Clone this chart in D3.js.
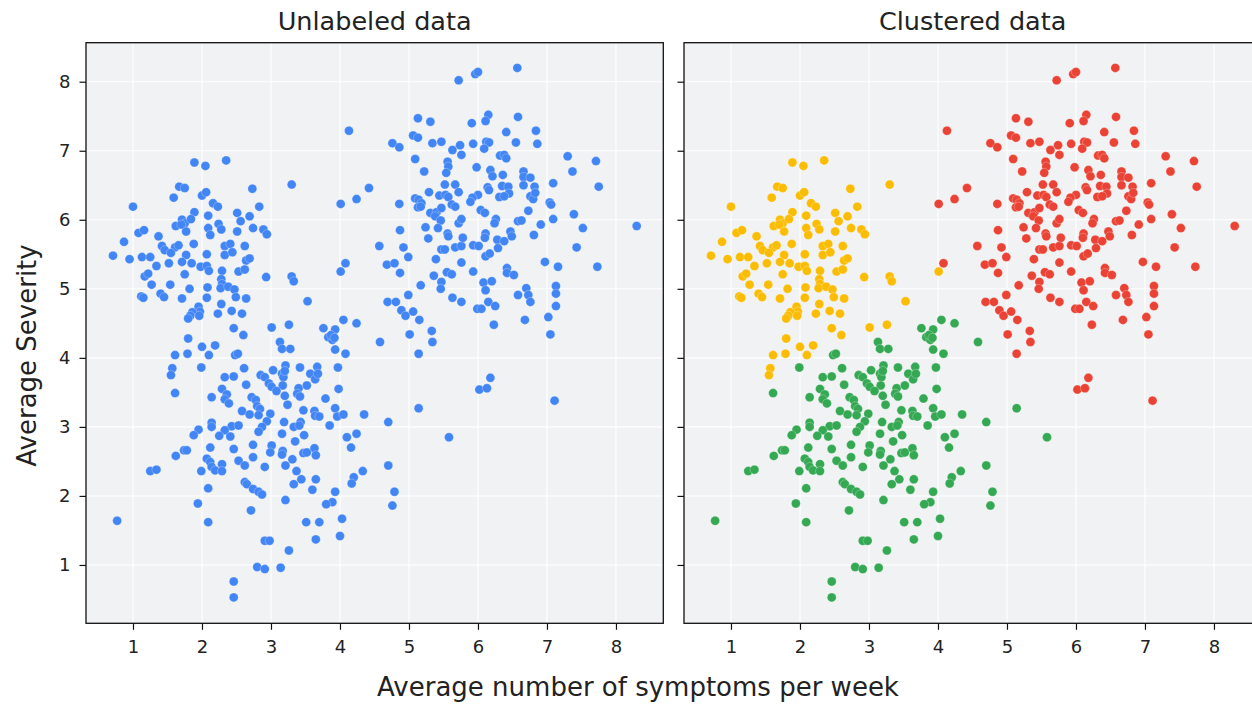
<!DOCTYPE html>
<html><head><meta charset="utf-8">
<script src="https://cdn.jsdelivr.net/npm/d3@7"></script>
<style>html,body{margin:0;padding:0;background:#fff;overflow:hidden}</style>
</head><body><svg id="c" width="1252" height="705"></svg>
<script>
const panelTitles = ["Unlabeled data", "Clustered data"];
const xLabel = "Average number of symptoms per week";
const yLabel = "Average Severity";
const xTicks = [1, 2, 3, 4, 5, 6, 7, 8];
const yTicks = [1, 2, 3, 4, 5, 6, 7, 8];
const unlabeledColor = "#4285F4";
const clusterColors = ["#FBBC04", "#34A853", "#EA4335"];

const clusterYellow = [
[1.89,6.83],[2.05,6.78],[2.35,6.86],[2.73,6.45],[1.67,6.48],[1.75,6.46],[1.59,6.32],[2.00,6.35],[2.06,6.40],[1.00,6.19],
[2.16,6.24],[2.23,6.19],[2.83,6.19],[1.89,6.11],[2.09,6.06],[2.51,6.10],[2.69,6.05],[1.71,6.00],[1.75,5.95],[1.84,6.01],
[1.62,5.91],[1.70,5.93],[2.56,5.98],[2.24,5.94],[2.28,5.86],[2.09,5.88],[2.12,5.78],[2.74,5.88],[2.51,5.83],[2.89,5.86],
[2.94,5.79],[1.08,5.81],[1.16,5.85],[1.37,5.76],[1.77,5.83],[0.87,5.68],
[1.42,5.62],[1.61,5.60],[1.66,5.63],[1.88,5.65],[2.33,5.62],[2.41,5.65],[2.62,5.62],[0.71,5.48],[0.95,5.43],[1.13,5.46],
[1.25,5.46],[1.46,5.56],[1.55,5.52],[1.77,5.49],[2.07,5.50],[2.33,5.49],[2.44,5.53],[2.64,5.41],[2.69,5.44],[1.34,5.33],
[1.52,5.37],[1.71,5.39],[1.85,5.37],[1.98,5.32],[2.07,5.33],[2.10,5.26],[2.29,5.26],[2.53,5.25],[2.62,5.28],[1.17,5.18],
[1.22,5.22],[1.75,5.21],[2.93,5.17],[2.28,5.14],[2.29,5.07],[1.27,5.06],[1.54,5.06],[1.82,5.00],[2.08,5.02],[2.27,5.01],
[2.38,5.03],[2.47,4.99],[1.12,4.89],[1.15,4.87],[1.40,4.93],[1.45,4.88],[1.71,4.86],[2.07,4.87],[2.49,4.88],[2.64,4.86],
[2.28,4.78],[1.95,4.74],[1.97,4.67],[1.86,4.66],[1.83,4.61],[1.80,4.57],[1.96,4.61],[2.23,4.64],[2.43,4.68],[2.58,4.64],
[2.46,4.43],[2.60,4.33],[3.01,4.44],[1.80,4.28],[2.00,4.16],[2.19,4.18],[1.79,4.06],[2.10,4.04],[1.61,4.04],[1.57,3.85],
[1.55,3.75],[3.26,4.48],[3.30,5.18],[3.33,5.11],[3.53,4.82],[4.01,5.25],[3.30,6.51]
];

const clusterGreen = [
[2.48,4.04],[2.52,4.06],[1.99,3.86],[2.61,3.85],[2.33,3.72],[2.46,3.73],[2.64,3.61],[2.85,3.75],[2.91,3.72],[2.97,3.63],
[3.01,3.58],[1.61,3.49],[2.14,3.43],[2.29,3.55],[2.36,3.47],[2.33,3.40],[2.39,3.34],[2.72,3.43],[2.78,3.39],[2.80,3.30],
[2.84,3.26],[2.58,3.23],[2.69,3.18],[2.82,3.17],[2.99,3.19],[2.94,3.08],[2.87,3.00],[2.82,2.93],[2.14,3.06],[2.14,3.00],
[1.95,2.96],[1.88,2.88],[2.43,3.01],[2.53,3.02],[2.33,2.95],[2.25,2.87],[2.41,2.86],
[2.46,2.68],[2.74,2.74],[3.01,2.73],[2.99,2.63],[1.74,2.66],[1.78,2.66],[1.62,2.58],[2.12,2.70],[2.07,2.54],[2.12,2.49],
[2.14,2.42],[2.19,2.37],[2.29,2.46],[2.29,2.36],[1.99,2.36],[2.53,2.51],[2.62,2.44],[2.74,2.56],[2.91,2.42],[1.25,2.36],
[1.34,2.38],[2.62,2.20],[2.65,2.17],[2.74,2.10],[2.82,2.06],[2.87,2.02],[2.09,2.11],[1.94,1.89],[2.71,1.79],[0.77,1.64],
[2.09,1.62],[2.91,1.35],[2.98,1.35],[2.80,0.97],[2.91,0.94],[2.46,0.76],[2.46,0.53],
[3.35,2.79],[3.17,2.65],[3.16,2.60],[3.47,2.62],[3.52,2.63],[3.63,2.69],[3.65,2.59],[3.31,2.53],[3.21,2.44],[3.37,2.36],
[3.44,2.24],[3.33,2.17],[3.65,2.24],[3.60,2.09],[3.21,1.94],[4.16,2.70],[4.33,2.36],[4.20,2.27],[4.17,2.18],[3.93,2.06],
[3.89,1.91],[3.80,1.88],[4.70,2.44],[4.79,2.06],[4.76,1.86],[3.51,1.62],[3.70,1.62],[4.03,1.67],[3.65,1.37],[4.00,1.42],
[3.26,1.21],[3.14,0.96],[5.58,2.85],
[4.05,4.55],[4.24,4.50],[3.76,4.43],[3.93,4.41],[3.83,4.30],[3.89,4.26],[3.87,4.33],[3.92,4.29],[3.93,4.12],[4.08,4.06],
[4.58,4.23],[3.13,4.23],[3.16,4.13],[3.28,4.13],[3.21,3.89],[3.42,3.86],[3.67,3.87],[3.97,3.86],[3.03,3.82],[3.16,3.77],
[3.18,3.72],[3.20,3.81],[3.57,3.77],[3.64,3.69],[3.68,3.77],[3.17,3.60],[3.40,3.56],[3.52,3.60],[3.98,3.55],[3.08,3.52],
[3.20,3.45],[3.38,3.48],[3.42,3.44],[3.79,3.41],[3.24,3.32],[3.47,3.24],[3.63,3.23],[3.64,3.16],[3.70,3.15],[3.93,3.27],
[3.96,3.15],[4.05,3.18],[4.35,3.18],[3.19,3.07],[3.33,3.00],[3.43,3.07],[3.41,3.02],[3.85,3.02],[3.16,2.90],[3.48,2.88],
[4.10,2.85],[4.24,2.90],[4.70,3.07],[5.14,3.27]
];

const clusterRed = [
[4.57,5.62],[4.92,5.60],[4.99,5.46],[4.08,5.37],[4.68,5.35],[4.79,5.37],[4.87,5.23],[5.47,5.57],[5.52,5.57],[5.67,5.60],
[5.76,5.62],[5.39,5.43],[5.76,5.38],[5.36,5.19],[5.47,5.10],[5.46,5.00],[5.55,5.24],[5.62,5.21],[5.17,5.05],[4.99,4.91],
[5.63,4.87],[5.76,4.81],[4.69,4.81],[4.81,4.81],[4.89,4.69],[4.95,4.61],[5.06,4.67],[5.15,4.55],[5.33,4.39],[5.34,4.23],
[5.01,4.34],[5.14,4.06],
[5.72,8.02],[5.13,7.47],[5.31,7.42],[4.13,7.29],[5.06,7.22],[5.13,7.19],[4.76,7.11],[4.86,7.05],[5.34,7.11],[5.47,7.13],
[5.74,7.08],[5.63,7.01],[5.76,6.94],[5.09,6.88],[5.56,6.84],[5.57,6.77],[5.54,6.68],[5.22,6.70],[4.42,6.46],[4.24,6.30],
[4.01,6.23],[4.86,6.23],[5.52,6.51],[5.67,6.51],[5.72,6.40],[5.29,6.40],[5.09,6.31],[5.14,6.29],[5.18,6.24],[5.13,6.18],
[5.17,6.19],[5.44,6.35],[5.53,6.36],[5.57,6.33],[5.62,6.22],[5.67,6.19],[5.31,6.10],[5.40,6.11],[5.38,6.05],[5.46,5.99],
[5.47,6.17],[5.72,5.95],[5.76,6.01],[5.24,5.89],[5.42,5.88],[4.87,5.85],[5.56,5.80],[5.57,5.76],[5.28,5.73],[5.78,5.74],
[5.96,8.11],[6.00,8.14],[6.57,8.20],[6.15,7.52],[6.11,7.43],[5.91,7.40],[6.58,7.49],[6.41,7.27],[6.84,7.29],[5.93,7.10],
[6.12,7.13],[6.16,7.12],[6.09,7.03],[6.55,7.12],[6.86,7.10],[6.32,6.93],[6.38,6.94],[6.41,6.89],[7.30,6.92],[7.71,6.85],
[5.98,6.76],[6.18,6.72],[6.21,6.63],[6.36,6.65],[6.66,6.70],[6.66,6.62],[6.76,6.61],[7.37,6.70],[7.09,6.53],[7.75,6.48],
[6.14,6.47],[6.16,6.43],[6.35,6.49],[6.44,6.48],[6.45,6.38],[6.66,6.50],[6.82,6.48],[6.76,6.34],[6.80,6.30],[6.83,6.39],
[6.00,6.36],[5.92,6.32],[5.89,6.26],[6.31,6.33],[6.38,6.34],[7.04,6.25],[7.06,6.22],[6.04,6.14],[6.10,6.10],[6.73,6.13],
[6.26,6.01],[6.24,5.95],[6.58,5.98],[6.63,5.99],[7.09,6.01],[7.39,6.08],[6.91,5.93],[7.52,5.88],[8.30,5.91],[6.11,5.80],
[6.10,5.74],[6.47,5.83],[6.49,5.76],[6.81,5.78],
[5.93,5.63],[6.01,5.62],[6.28,5.71],[6.38,5.69],[6.29,5.59],[6.11,5.47],[6.17,5.51],[7.43,5.60],[5.93,5.25],[6.97,5.39],
[7.16,5.32],[7.73,5.32],[6.42,5.30],[6.42,5.23],[6.52,5.20],[6.08,5.09],[6.11,4.98],[6.20,5.11],[6.70,5.01],[6.58,4.91],
[6.73,4.91],[6.76,4.81],[7.13,5.04],[7.13,4.93],[7.13,4.75],[6.15,4.81],[6.25,4.75],[5.99,4.71],[6.05,4.71],[6.68,4.55],
[7.02,4.59],[6.23,4.48],[7.05,4.34],[6.18,3.71],[6.02,3.54],[6.13,3.56],[7.11,3.38]
];

const clusters = [clusterYellow, clusterGreen, clusterRed];

const svg = d3.select("#c");
const font = "'DejaVu Sans', sans-serif";
const plotTop = 42.7, plotBottom = 623.3, panelW = 577.3;
const panelLefts = [86, 684];
const bg = "#f1f2f4";

const yScale = d3.scaleLinear().domain([0.155, 8.565]).range([plotBottom, plotTop]);

panelLefts.forEach((left, pi) => {
  const xScale = d3.scaleLinear().domain([0.319, 8.686]).range([left, left + panelW]);
  const g = svg.append("g");
  g.append("rect").attr("x", left).attr("y", plotTop).attr("width", panelW).attr("height", plotBottom - plotTop).attr("fill", bg);
  g.append("g").selectAll("line").data(xTicks).join("line")
    .attr("x1", d => xScale(d)).attr("x2", d => xScale(d)).attr("y1", plotTop).attr("y2", plotBottom)
    .attr("stroke", "#ffffff").attr("stroke-width", 1.1);
  g.append("g").selectAll("line").data(yTicks).join("line")
    .attr("y1", d => yScale(d)).attr("y2", d => yScale(d)).attr("x1", left).attr("x2", left + panelW)
    .attr("stroke", "#ffffff").attr("stroke-width", 1.1);
  const pts = g.append("g");
  clusters.forEach((c, ci) => {
    pts.append("g").selectAll("circle").data(c).join("circle")
      .attr("cx", d => xScale(d[0])).attr("cy", d => yScale(d[1])).attr("r", 4.5)
      .attr("fill", pi === 0 ? unlabeledColor : clusterColors[ci])
      .attr("stroke", "rgba(255,255,255,0.45)").attr("stroke-width", 0.6);
  });
  g.append("rect").attr("x", left).attr("y", plotTop).attr("width", panelW).attr("height", plotBottom - plotTop)
    .attr("fill", "none").attr("stroke", "#111").attr("stroke-width", 1.3);
  const xa = g.append("g").attr("transform", `translate(0,${plotBottom})`)
    .call(d3.axisBottom(xScale).tickValues(xTicks).tickSize(6.5).tickPadding(10).tickSizeOuter(0));
  const ya = g.append("g").attr("transform", `translate(${left},0)`)
    .call(d3.axisLeft(yScale).tickValues(yTicks).tickSize(6.5).tickPadding(9).tickSizeOuter(0)
      .tickFormat(pi === 0 ? d3.format("d") : () => ""));
  [xa, ya].forEach(a => {
    a.select(".domain").remove();
    a.selectAll("line").attr("stroke", "#111").attr("stroke-width", 1.2);
    a.selectAll("text").attr("font-family", font).attr("font-size", 18).attr("fill", "#222");
  });
  g.append("text").attr("x", left + panelW / 2).attr("y", 29.5).attr("text-anchor", "middle")
    .attr("font-family", font).attr("font-size", 25.5).attr("fill", "#222").text(panelTitles[pi]);
});

svg.append("text").attr("x", 638).attr("y", 696).attr("text-anchor", "middle")
  .attr("font-family", font).attr("font-size", 26).attr("fill", "#222").text(xLabel);
svg.append("text").attr("transform", "translate(36,355.5) rotate(-90)").attr("text-anchor", "middle")
  .attr("font-family", font).attr("font-size", 26).attr("fill", "#222").text(yLabel);
</script>
</body></html>
